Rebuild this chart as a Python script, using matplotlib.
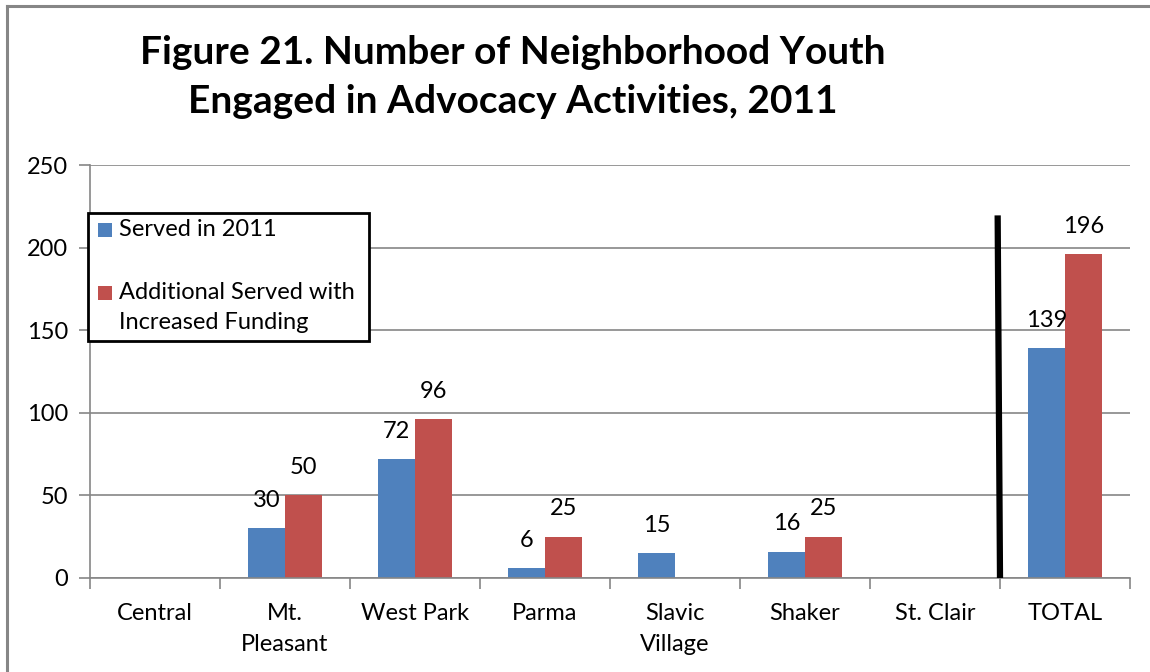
import matplotlib
matplotlib.use("Agg")
import matplotlib.pyplot as plt
from matplotlib.patches import Rectangle
from matplotlib.lines import Line2D
import numpy as np

categories = ["Central", "Mt.\nPleasant", "West Park", "Parma", "Slavic\nVillage", "Shaker", "St. Clair", "TOTAL"]
served_2011 = [0, 30, 72, 6, 15, 16, 0, 139]
additional = [0, 50, 96, 25, 0, 25, 0, 196]
series_names = ["Served in 2011", "Additional Served with\nIncreased Funding"]
title = "Figure 21. Number of Neighborhood Youth\nEngaged in Advocacy Activities, 2011"
yticks = [0, 50, 100, 150, 200, 250]

BLUE = "#4F81BD"
RED = "#C0504D"
GREY = "#868686"
FONT = "Lato"
FS = 17

W, H = 1150, 672
fig = plt.figure(figsize=(W / 100, H / 100), dpi=100)
ax = fig.add_axes([90 / W, 1 - 578 / H, (1130 - 90) / W, (578 - 165) / H])

x = np.arange(len(categories))
bw = 0.285
b1 = ax.bar(x - bw / 2, served_2011, bw, color=BLUE, edgecolor="none", zorder=3)
b2 = ax.bar(x + bw / 2, additional, bw, color=RED, edgecolor="none", zorder=3)

for bars, vals in ((b1, served_2011), (b2, additional)):
    for rect, v in zip(bars, vals):
        if v:
            ax.annotate(str(v), (rect.get_x() + rect.get_width() / 2, v),
                        xytext=(0, 20), textcoords="offset points", ha="center", va="center",
                        fontsize=FS, family=FONT, zorder=5)

ax.set_xlim(-0.5, len(categories) - 0.5)
ax.set_ylim(0, 250)
ax.set_yticks(yticks)
ax.set_yticklabels([str(t) for t in yticks], fontsize=FS, family=FONT)
ax.set_xticks(x)
ax.set_xticklabels(categories, fontsize=FS, family=FONT, linespacing=1.6)
ax.set_xticks(np.arange(len(categories) + 1) - 0.5, minor=True)
ax.tick_params(axis="x", which="major", length=0, pad=18)
ax.tick_params(axis="x", which="minor", length=8, color=GREY, width=1.2, direction="out")
ax.tick_params(axis="y", length=8, color=GREY, width=1.2, direction="out", pad=8)
ax.grid(axis="y", color=GREY, linewidth=1.2, zorder=0)
for s in ("top", "right"):
    ax.spines[s].set_visible(False)
for s in ("left", "bottom"):
    ax.spines[s].set_color(GREY)
    ax.spines[s].set_linewidth(1.2)
ax.spines["bottom"].set_zorder(4)

# vertical separator line before TOTAL
ax.plot([6.482, 6.5], [219.5, 0], color="black", linewidth=4.5, zorder=6, solid_capstyle="butt", clip_on=False)

# title
fig.text(513 / W, 1 - 77 / H, title, ha="center", va="center", fontsize=28, fontweight="bold",
         family=FONT, linespacing=1.5)

# outer chart border (top & left visible)
fig.add_artist(Line2D([7 / W, 1.0], [1 - 6 / H, 1 - 6 / H], color=GREY, linewidth=2.2))
fig.add_artist(Line2D([7 / W, 7 / W], [0, 1 - 6 / H], color=GREY, linewidth=2.2))

# legend box
fig.add_artist(Rectangle((88 / W, 1 - 341 / H), (369 - 88) / W, (341 - 213) / H,
                         transform=fig.transFigure, facecolor="white", edgecolor="black",
                         linewidth=2, zorder=10))
for i, (name, col, yc) in enumerate(zip(series_names, [BLUE, RED], [230, 293])):
    fig.add_artist(Rectangle((98 / W, 1 - (yc + 7) / H), 14 / W, 14 / H, transform=fig.transFigure,
                             facecolor=col, edgecolor="none", zorder=11))
    fig.text(119 / W, 1 - (yc - 11) / H, name, ha="left", va="top", fontsize=FS, family=FONT,
             linespacing=1.5, zorder=12)

fig.savefig("out.png", dpi=100)
